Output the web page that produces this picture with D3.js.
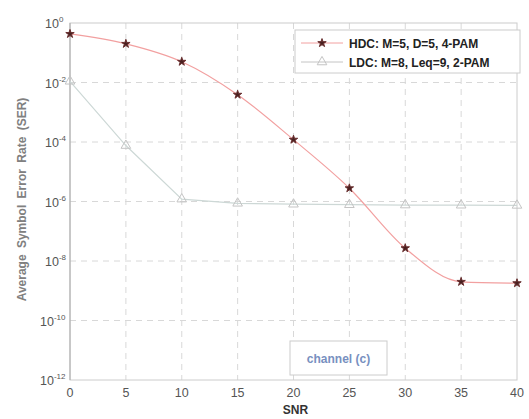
<!DOCTYPE html>
<html>
<head>
<meta charset="utf-8">
<script src="https://cdn.jsdelivr.net/npm/d3@7"></script>
<style>
  body { margin: 0; background: #fff; }
  text { font-family: Arial, "Liberation Sans", sans-serif; }
</style>
</head>
<body>
<div id="chart"></div>
<script>
// SNR points on the x axis
const snr = [0, 5, 10, 15, 20, 25, 30, 35, 40];
// HDC: M=5, D=5, 4-PAM
const hdcSer = [0.43, 0.2, 0.05, 0.0039, 1.2e-4, 2.8e-6, 2.7e-8, 2.0e-9, 1.8e-9];
// LDC: M=8, Leq=9, 2-PAM
const ldcSer = [1.1e-2, 7.6e-5, 1.2e-6, 8.7e-7, 8.1e-7, 7.8e-7, 7.6e-7, 7.5e-7, 7.4e-7];

const xTicks = [0, 5, 10, 15, 20, 25, 30, 35, 40];
const yExps = [0, -2, -4, -6, -8, -10, -12];

const W = 529, H = 419;
const margin = { top: 23, right: 12, bottom: 39, left: 70 };

const svg = d3.select('#chart').append('svg')
  .attr('width', W)
  .attr('height', H);

const x = d3.scaleLinear()
  .domain([0, 40])
  .range([margin.left, W - margin.right]);

const y = d3.scaleLog()
  .domain([1e-12, 1])
  .range([H - margin.bottom, margin.top]);

const plot = svg.append('g');

// dashed grid
plot.append('g')
  .selectAll('line')
  .data(xTicks.slice(1, -1))
  .enter().append('line')
  .attr('x1', d => x(d)).attr('x2', d => x(d))
  .attr('y1', y(1)).attr('y2', y(1e-12))
  .attr('stroke', '#d8d8d8')
  .attr('stroke-dasharray', '6,5');

plot.append('g')
  .selectAll('line')
  .data(yExps.slice(1, -1))
  .enter().append('line')
  .attr('x1', x(0)).attr('x2', x(40))
  .attr('y1', d => y(Math.pow(10, d))).attr('y2', d => y(Math.pow(10, d)))
  .attr('stroke', '#d8d8d8')
  .attr('stroke-dasharray', '6,5');

// frame
plot.append('rect')
  .attr('x', x(0)).attr('y', y(1))
  .attr('width', x(40) - x(0))
  .attr('height', y(1e-12) - y(1))
  .attr('fill', 'none')
  .attr('stroke', '#cccccc');

plot.append('line')
  .attr('x1', x(0)).attr('x2', x(0))
  .attr('y1', y(1)).attr('y2', y(1e-12))
  .attr('stroke', '#aaaaaa');

// x tick labels
svg.append('g')
  .selectAll('text')
  .data(xTicks)
  .enter().append('text')
  .attr('x', d => x(d))
  .attr('y', H - margin.bottom + 17)
  .attr('text-anchor', 'middle')
  .attr('font-size', 12.5)
  .attr('fill', '#555')
  .text(d => d);

// y tick labels 10^n
const yl = svg.append('g')
  .selectAll('text')
  .data(yExps)
  .enter().append('text')
  .attr('x', d => d <= -10 ? 40 : 45)
  .attr('y', d => y(Math.pow(10, d)) + 5)
  .attr('font-size', 12.5)
  .attr('fill', '#555');
yl.append('tspan').text('10');
yl.append('tspan')
  .attr('dy', -6)
  .attr('font-size', 8)
  .text(d => d === 0 ? '0' : d);

// axis titles
svg.append('text')
  .attr('x', x(20) + 2)
  .attr('y', H - 5)
  .attr('text-anchor', 'middle')
  .attr('font-size', 12)
  .attr('font-weight', 'bold')
  .attr('fill', '#333')
  .text('SNR');

svg.append('text')
  .attr('transform', `translate(26, ${y(1e-6) - 2}) rotate(-90)`)
  .attr('text-anchor', 'middle')
  .attr('font-size', 12)
  .attr('font-weight', 'bold')
  .attr('fill', '#808080')
  .attr('word-spacing', 3)
  .text('Average Symbol Error Rate (SER)');

// series (plain segments, like the source plot)
const line = d3.line()
  .x(d => x(d[0]))
  .y(d => y(d[1]));

const ldcData = snr.map((s, i) => [s, ldcSer[i]]);
const hdcData = snr.map((s, i) => [s, hdcSer[i]]);

plot.append('path')
  .datum(ldcData)
  .attr('d', line)
  .attr('fill', 'none')
  .attr('stroke', '#cdd8d6')
  .attr('stroke-width', 1.2);

const tri = d3.symbol().type(d3.symbolTriangle).size(40);
plot.append('g')
  .selectAll('path')
  .data(ldcData)
  .enter().append('path')
  .attr('d', tri)
  .attr('transform', d => `translate(${x(d[0])},${y(d[1])})`)
  .attr('fill', 'none')
  .attr('stroke', '#c4c4c4');

plot.append('path')
  .datum(hdcData)
  .attr('d', line.curve(d3.curveMonotoneX))
  .attr('fill', 'none')
  .attr('stroke', '#f2a0a0')
  .attr('stroke-width', 1.2);

const star = d3.symbol().type(d3.symbolStar).size(22);
plot.append('g')
  .selectAll('path')
  .data(hdcData)
  .enter().append('path')
  .attr('d', star)
  .attr('transform', d => `translate(${x(d[0])},${y(d[1])})`)
  .attr('fill', '#4a2020')
  .attr('stroke', '#6a3030')
  .attr('stroke-width', 1);

// legend
const lg = svg.append('g').attr('transform', 'translate(295,30)');
lg.append('rect')
  .attr('width', 225).attr('height', 43)
  .attr('fill', '#fff')
  .attr('stroke', '#ccc');

lg.append('line')
  .attr('x1', 6).attr('x2', 48).attr('y1', 13).attr('y2', 13)
  .attr('stroke', '#f2a0a0');
lg.append('path')
  .attr('d', star)
  .attr('transform', 'translate(27,13)')
  .attr('fill', '#4a2020')
  .attr('stroke', '#6a3030');
lg.append('text')
  .attr('x', 54).attr('y', 17.5)
  .attr('font-size', 12).attr('font-weight', 'bold')
  .attr('fill', '#222')
  .text('HDC: M=5, D=5, 4-PAM');

lg.append('line')
  .attr('x1', 6).attr('x2', 48).attr('y1', 32).attr('y2', 32)
  .attr('stroke', '#c4c4c4');
lg.append('path')
  .attr('d', tri)
  .attr('transform', 'translate(27,32)')
  .attr('fill', 'none')
  .attr('stroke', '#c4c4c4');
lg.append('text')
  .attr('x', 54).attr('y', 36.5)
  .attr('font-size', 12).attr('font-weight', 'bold')
  .attr('fill', '#222')
  .text('LDC: M=8, Leq=9, 2-PAM');

// channel label box
const cb = svg.append('g').attr('transform', 'translate(290,341)');
cb.append('rect')
  .attr('width', 97).attr('height', 34)
  .attr('fill', '#fff')
  .attr('stroke', '#ccc');
cb.append('text')
  .attr('x', 48.5).attr('y', 21.5)
  .attr('text-anchor', 'middle')
  .attr('font-size', 12).attr('font-weight', 'bold')
  .attr('fill', '#7890c0')
  .text('channel (c)');
</script>
</body>
</html>
